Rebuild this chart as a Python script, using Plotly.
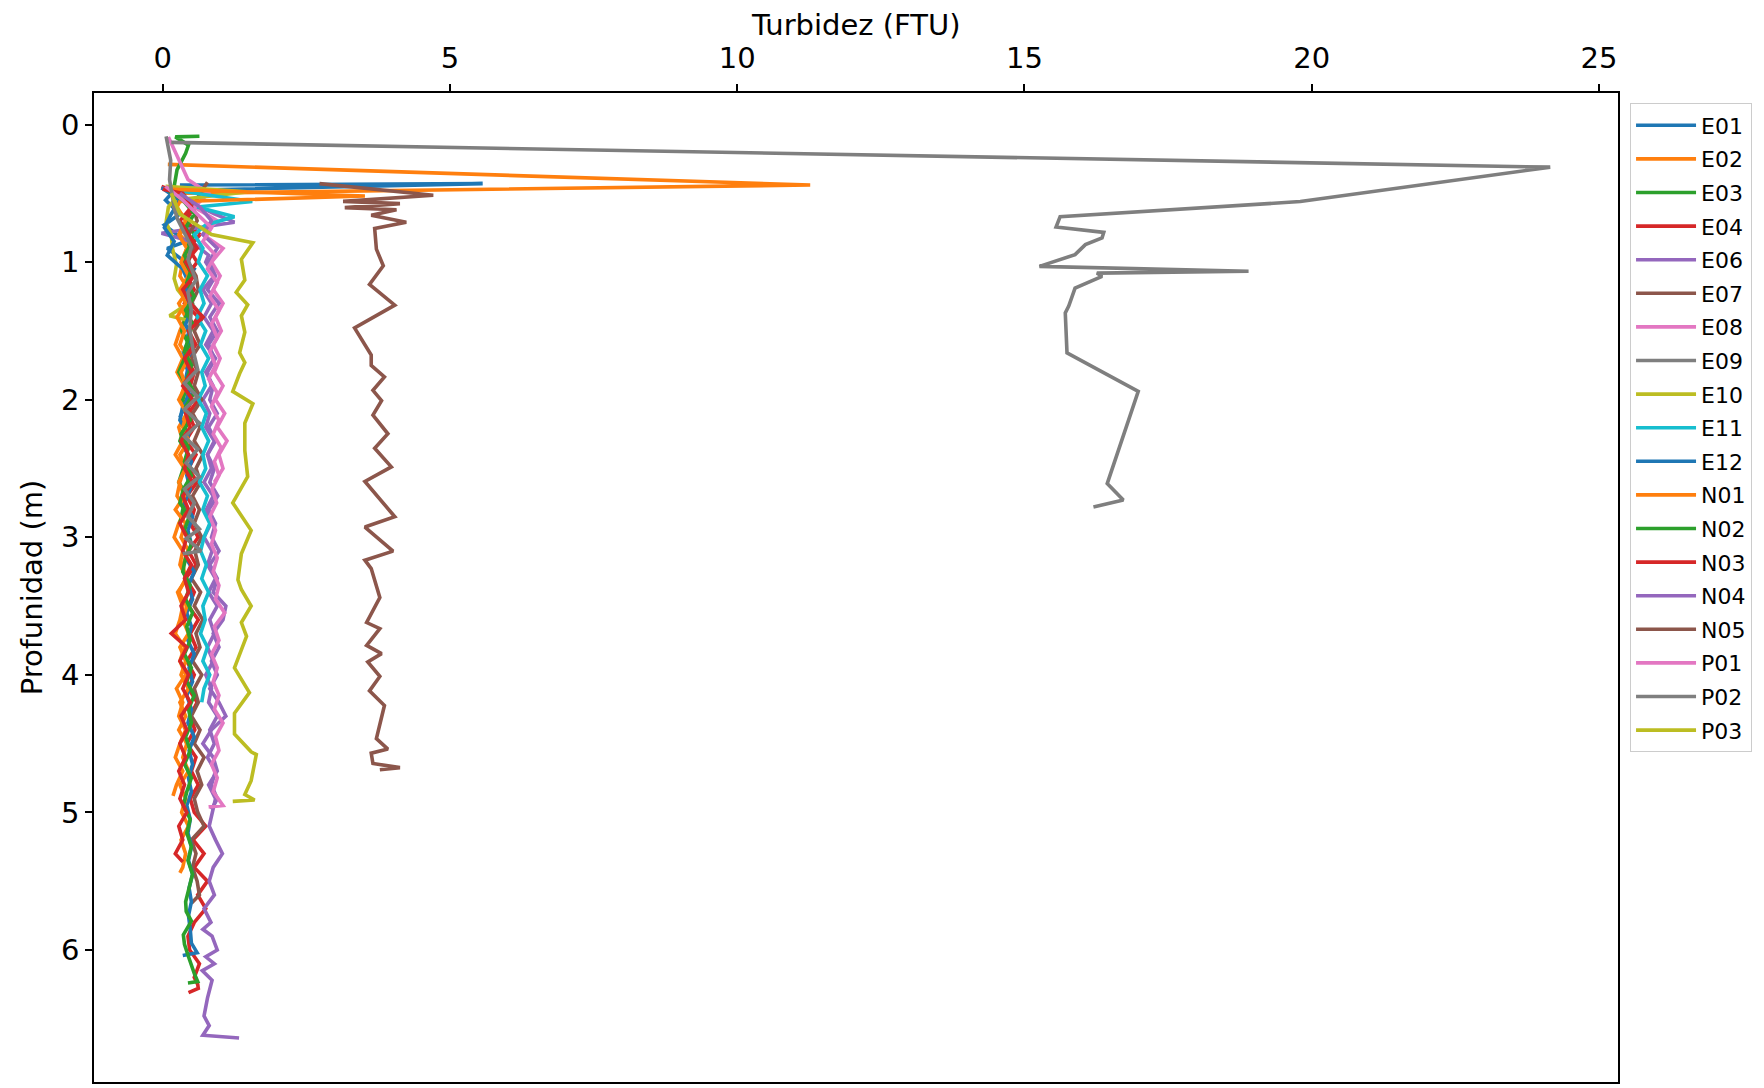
import plotly.graph_objects as go

# ---------------- data (turbidity in FTU vs depth in m) ----------------
STATIONS = ["E01", "E02", "E03", "E04", "E06", "E07", "E08", "E09", "E10", "E11",
            "E12", "N01", "N02", "N03", "N04", "N05", "P01", "P02", "P03"]
COLORS = ["#1f77b4", "#ff7f0e", "#2ca02c", "#d62728", "#9467bd", "#8c564b", "#e377c2",
          "#7f7f7f", "#bcbd22", "#17becf", "#1f77b4", "#ff7f0e", "#2ca02c", "#d62728",
          "#9467bd", "#8c564b", "#e377c2", "#7f7f7f", "#bcbd22"]

E01_depth = [0.44, 0.43, 0.48, 0.55, 0.65, 0.73, 0.85, 0.90, 1.05, 1.15, 1.25, 1.35, 1.45,
             1.55, 1.65, 1.75, 1.85, 1.95, 2.05, 2.13]
E01_ftu = [0.30, 5.57, 0.20, 0.05, 0.30, 0.03, 0.40, 0.08, 0.55, 0.40, 0.50, 0.38, 0.52,
           0.42, 0.55, 0.40, 0.50, 0.45, 0.38, 0.30]

E02_depth = [0.29, 0.44, 0.50, 0.6, 0.7, 0.8, 0.9, 1.0, 1.1, 1.2, 1.3, 1.4, 1.5, 1.6, 1.7,
             1.8, 1.9, 2.0, 2.1, 2.2, 2.3, 2.4, 2.5, 2.6, 2.7, 2.8, 2.9, 3.0, 3.1, 3.2, 3.3,
             3.4, 3.5, 3.6, 3.7, 3.8, 3.9, 4.0, 4.1, 4.2, 4.3, 4.4, 4.5, 4.6, 4.7, 4.8, 4.88]
E02_ftu = [0.09, 11.27, 0.35, 0.20, 0.45, 0.30, 0.50, 0.35, 0.30, 0.45, 0.28, 0.40, 0.30,
           0.22, 0.35, 0.25, 0.38, 0.30, 0.42, 0.28, 0.35, 0.22, 0.38, 0.30, 0.25, 0.40,
           0.28, 0.20, 0.35, 0.30, 0.42, 0.26, 0.35, 0.30, 0.22, 0.38, 0.30, 0.40, 0.24,
           0.35, 0.28, 0.40, 0.30, 0.22, 0.35, 0.24, 0.18]

E03_depth = [0.085, 0.09, 0.15, 0.21, 0.33, 0.45, 0.5, 0.6, 0.7, 0.8, 0.9, 1.0, 1.1, 1.2,
             1.3, 1.4, 1.5, 1.6, 1.7, 1.8, 1.9, 2.0, 2.1, 2.2, 2.3, 2.4, 2.5, 2.6, 2.7,
             2.8, 2.9]
E03_ftu = [0.64, 0.22, 0.45, 0.40, 0.25, 0.20, 0.35, 0.50, 0.40, 0.55, 0.42, 0.35, 0.48,
           0.38, 0.52, 0.40, 0.33, 0.46, 0.38, 0.28, 0.42, 0.35, 0.50, 0.38, 0.30, 0.45,
           0.36, 0.28, 0.42, 0.35, 0.30]

E04_depth = [0.45, 0.5, 0.6, 0.7, 0.8, 0.9, 1.0, 1.1, 1.2, 1.3, 1.4, 1.5, 1.6, 1.7, 1.8,
             1.9, 2.0, 2.1, 2.2, 2.3, 2.4, 2.5, 2.6, 2.7, 2.8, 2.9, 3.0, 3.1, 3.2, 3.3, 3.4,
             3.5, 3.6, 3.7, 3.8, 3.9, 4.0, 4.1, 4.2, 4.3, 4.4, 4.5, 4.6, 4.7, 4.8, 4.9, 5.0,
             5.1, 5.2, 5.3, 5.4, 5.5, 5.6, 5.7, 5.8, 5.9, 6.0, 6.1, 6.2, 6.25, 6.28, 6.31]
E04_ftu = [-0.02, 0.30, 0.55, 0.40, 0.65, 0.45, 0.60, 0.42, 0.55, 0.38, 0.62, 0.45, 0.58,
           0.40, 0.55, 0.48, 0.62, 0.45, 0.55, 0.40, 0.58, 0.45, 0.60, 0.42, 0.55, 0.48,
           0.62, 0.45, 0.58, 0.40, 0.55, 0.45, 0.62, 0.48, 0.58, 0.42, 0.55, 0.45, 0.60,
           0.48, 0.56, 0.42, 0.58, 0.50, 0.62, 0.48, 0.55, 0.75, 0.53, 0.72, 0.55, 0.78,
           0.61, 0.75, 0.55, 0.44, 0.47, 0.64, 0.55, 0.61, 0.62, 0.45]

E06_depth = [0.46, 0.55, 0.65, 0.71, 0.75, 0.79, 0.85, 0.95, 1.0, 1.1, 1.2, 1.3, 1.4, 1.5,
             1.6, 1.7, 1.8, 1.9, 2.0, 2.1, 2.2, 2.3, 2.4, 2.5, 2.6, 2.7, 2.8, 2.9, 3.0, 3.1,
             3.2, 3.3, 3.4, 3.5, 3.6, 3.7, 3.8, 3.9, 4.0, 4.1, 4.2, 4.3, 4.4, 4.5, 4.6, 4.7,
             4.8, 4.9, 4.98]
E06_ftu = [-0.02, 0.40, 0.90, 1.25, 0.60, -0.02, 0.50, 0.80, 0.75, 0.90, 0.70, 0.85, 0.72,
           0.88, 0.75, 0.92, 0.78, 0.85, 0.70, 0.82, 0.75, 0.90, 0.78, 0.85, 0.72, 0.88,
           0.76, 0.84, 0.72, 0.86, 0.78, 0.92, 0.80, 0.95, 0.82, 0.90, 0.78, 0.88, 0.75,
           0.85, 0.80, 0.95, 0.82, 0.90, 0.78, 0.92, 0.85, 0.95, 0.85]

E07_depth = [0.42, 0.5, 0.6, 0.7, 0.8, 0.9, 1.0, 1.1, 1.2, 1.3, 1.4, 1.5, 1.6, 1.7, 1.8,
             1.9, 2.0, 2.1, 2.2, 2.3, 2.4, 2.5, 2.6, 2.7, 2.8, 2.9, 3.0, 3.1, 3.2, 3.3, 3.4,
             3.5, 3.6, 3.7, 3.8, 3.9, 4.0, 4.1, 4.2, 4.3, 4.4, 4.5, 4.6, 4.7, 4.8, 4.9, 5.0,
             5.1, 5.2, 5.3, 5.4, 5.5, 5.6, 5.66]
E07_ftu = [0.78, 0.65, 0.53, 0.60, 0.45, 0.55, 0.44, 0.58, 0.62, 0.50, 0.70, 0.55, 0.65,
           0.50, 0.62, 0.55, 0.68, 0.52, 0.65, 0.55, 0.70, 0.58, 0.66, 0.52, 0.64, 0.55,
           0.68, 0.56, 0.62, 0.50, 0.66, 0.55, 0.70, 0.58, 0.65, 0.52, 0.68, 0.55, 0.62,
           0.50, 0.65, 0.55, 0.72, 0.60, 0.68, 0.55, 0.61, 0.72, 0.50, 0.58, 0.52, 0.60,
           0.64, 0.50]

E08_depth = [0.09, 0.40, 0.5, 0.6, 0.7, 0.8, 0.9, 1.0, 1.1, 1.2, 1.3, 1.4, 1.5, 1.6, 1.7,
             1.8, 1.9, 2.0, 2.1, 2.2, 2.3, 2.4, 2.5, 2.6]
E08_ftu = [0.10, 0.44, 0.80, 0.55, 0.95, 0.70, 1.05, 0.85, 1.00, 0.88, 1.05, 0.92, 1.02,
           0.88, 1.00, 0.90, 1.05, 0.92, 1.08, 0.95, 1.12, 0.98, 1.05, 0.90]

E09_depth = [0.13, 0.31, 0.56, 0.67, 0.745, 0.784, 0.825, 0.873, 0.946, 1.031, 1.067, 1.08,
             1.104, 1.19, 1.32, 1.37, 1.66, 1.94, 2.61, 2.73, 2.78]
E09_ftu = [0.15, 24.15, 19.8, 15.62, 15.55, 16.38, 16.35, 16.06, 15.88, 15.26, 18.90, 16.26,
           16.35, 15.88, 15.77, 15.71, 15.74, 16.98, 16.44, 16.72, 16.20]

E10_depth = [0.45, 0.49, 0.55, 0.60, 0.71, 0.80, 0.90, 1.02, 1.12, 1.20, 1.30, 1.36, 1.39,
             1.43]
E10_ftu = [0.05, 1.46, 0.20, 0.10, 0.06, 0.15, 0.17, 0.24, 0.20, 0.26, 0.45, 0.22, 0.12, 0.50]

E11_depth = [0.47, 0.56, 0.60, 0.67, 0.73, 0.8, 0.9, 1.0, 1.1, 1.2, 1.3, 1.4, 1.5, 1.6,
             1.7, 1.8, 1.9, 2.0, 2.1, 2.2, 2.3, 2.4, 2.5, 2.6, 2.7, 2.8, 2.9, 3.0, 3.1, 3.2,
             3.3, 3.4, 3.5, 3.6, 3.7, 3.8, 3.9, 4.0, 4.1, 4.2]
E11_ftu = [0.10, 1.56, 0.60, 1.25, 0.75, 0.55, 0.70, 0.62, 0.78, 0.65, 0.72, 0.60, 0.75,
           0.66, 0.80, 0.68, 0.74, 0.62, 0.76, 0.68, 0.80, 0.70, 0.75, 0.64, 0.78, 0.70,
           0.82, 0.72, 0.66, 0.76, 0.68, 0.80, 0.70, 0.74, 0.66, 0.78, 0.70, 0.82, 0.72,
           0.68]

E12_depth = [0.46, 0.55, 0.65, 0.75, 0.85, 0.95, 1.05, 1.15, 1.25, 1.35, 1.45, 1.55, 1.65,
             1.75, 1.85, 1.95, 2.05, 2.15, 2.25, 2.35, 2.45, 2.55, 2.65, 2.75, 2.85, 2.95,
             3.05, 3.15, 3.25, 3.35, 3.45, 3.55, 3.65, 3.75, 3.85, 3.95, 4.05, 4.15, 4.25,
             4.35, 4.45, 4.55, 4.65, 4.75, 4.85, 4.95, 5.05, 5.15, 5.25, 5.35, 5.45, 5.55,
             5.65, 5.75, 5.85, 5.95, 6.02, 6.04]
E12_ftu = [-0.02, 0.30, 0.15, 0.03, 0.20, 0.08, 0.35, 0.45, 0.38, 0.50, 0.40, 0.48, 0.36,
           0.45, 0.40, 0.52, 0.35, 0.30, 0.45, 0.38, 0.50, 0.42, 0.48, 0.38, 0.52, 0.44,
           0.50, 0.40, 0.55, 0.45, 0.52, 0.42, 0.50, 0.44, 0.55, 0.46, 0.52, 0.42, 0.50,
           0.44, 0.55, 0.46, 0.52, 0.45, 0.50, 0.42, 0.48, 0.44, 0.50, 0.45, 0.52, 0.46,
           0.50, 0.45, 0.48, 0.50, 0.60, 0.35]

N01_depth = [0.47, 0.52, 0.56, 0.6, 0.7, 0.8, 0.9, 1.0, 1.1, 1.2, 1.3, 1.4, 1.5, 1.6, 1.7,
             1.8, 1.9, 2.0, 2.1, 2.2, 2.3, 2.4, 2.5, 2.6, 2.7, 2.8, 2.9, 3.0, 3.1, 3.2, 3.3,
             3.4, 3.5, 3.6, 3.7, 3.8, 3.9, 4.0, 4.1, 4.2, 4.3, 4.4, 4.5, 4.6, 4.7, 4.8, 4.9,
             5.0, 5.1, 5.2, 5.3, 5.4, 5.44]
N01_ftu = [0.05, 3.52, 0.30, 0.25, 0.40, 0.28, 0.42, 0.32, 0.45, 0.30, 0.40, 0.25, 0.38,
           0.30, 0.45, 0.32, 0.40, 0.28, 0.42, 0.35, 0.45, 0.30, 0.40, 0.28, 0.38, 0.22,
           0.40, 0.32, 0.45, 0.35, 0.40, 0.28, 0.42, 0.35, 0.45, 0.30, 0.40, 0.32, 0.45,
           0.30, 0.40, 0.28, 0.42, 0.35, 0.45, 0.30, 0.40, 0.33, 0.45, 0.32, 0.40, 0.35,
           0.30]

N02_depth = [0.48, 0.55, 0.65, 0.75, 0.85, 0.95, 1.05, 1.15, 1.25, 1.35, 1.45, 1.55, 1.65,
             1.75, 1.85, 1.95, 2.05, 2.15, 2.25, 2.35, 2.45, 2.55, 2.65, 2.75, 2.85, 2.95,
             3.05, 3.15, 3.25, 3.35, 3.45, 3.55, 3.65, 3.75, 3.85, 3.95, 4.05, 4.15, 4.25,
             4.35, 4.45, 4.55, 4.65, 4.75, 4.85, 4.95, 5.05, 5.15, 5.25, 5.35, 5.45, 5.55,
             5.65, 5.72, 5.79, 5.89, 5.96, 6.05, 6.12, 6.17, 6.23, 6.24]
N02_ftu = [0.10, 0.35, 0.55, 0.40, 0.52, 0.38, 0.50, 0.42, 0.55, 0.40, 0.52, 0.45, 0.38,
           0.50, 0.42, 0.55, 0.40, 0.48, 0.32, 0.45, 0.38, 0.50, 0.36, 0.30, 0.46, 0.38,
           0.50, 0.40, 0.35, 0.48, 0.40, 0.52, 0.42, 0.48, 0.38, 0.50, 0.42, 0.55, 0.45,
           0.50, 0.40, 0.48, 0.38, 0.50, 0.42, 0.36, 0.48, 0.42, 0.50, 0.44, 0.52, 0.46,
           0.40, 0.41, 0.50, 0.36, 0.38, 0.45, 0.50, 0.55, 0.61, 0.44]

N03_depth = [0.47, 0.5, 0.6, 0.7, 0.8, 0.9, 1.0, 1.1, 1.2, 1.3, 1.4, 1.5, 1.6, 1.7, 1.8,
             1.9, 2.0, 2.1, 2.2, 2.3, 2.4, 2.5, 2.6, 2.7, 2.8, 2.9, 3.0, 3.1, 3.2, 3.3, 3.4,
             3.5, 3.6, 3.7, 3.8, 3.9, 4.0, 4.1, 4.2, 4.3, 4.4, 4.5, 4.6, 4.7, 4.8, 4.9, 5.0,
             5.1, 5.2, 5.3, 5.36]
N03_ftu = [0.00, 0.35, 0.50, 0.30, 0.45, 0.60, 0.40, 0.55, 0.35, 0.48, 0.70, 0.45, 0.55,
           0.38, 0.50, 0.35, 0.52, 0.40, 0.48, 0.32, 0.45, 0.38, 0.52, 0.35, 0.45, 0.30,
           0.42, 0.35, 0.50, 0.38, 0.45, 0.32, 0.40, 0.15, 0.42, 0.30, 0.45, 0.35, 0.48,
           0.32, 0.42, 0.30, 0.40, 0.28, 0.38, 0.30, 0.42, 0.28, 0.35, 0.22, 0.35]

N04_depth = [0.5, 0.6, 0.7, 0.8, 0.9, 1.0, 1.1, 1.2, 1.3, 1.4, 1.5, 1.6, 1.7, 1.8, 1.9,
             2.0, 2.1, 2.2, 2.3, 2.4, 2.5, 2.6, 2.7, 2.8, 2.9, 3.0, 3.1, 3.2, 3.3, 3.4, 3.5,
             3.6, 3.7, 3.8, 3.9, 4.0, 4.1, 4.2, 4.3, 4.4, 4.5, 4.6, 4.7, 4.8, 4.9, 5.0, 5.1,
             5.2, 5.3, 5.4, 5.5, 5.6, 5.7, 5.8, 5.85, 5.9, 6.0, 6.05, 6.1, 6.15, 6.22, 6.35,
             6.48, 6.55, 6.62, 6.64]
N04_ftu = [0.30, 0.65, 0.85, 0.70, 0.95, 0.80, 0.92, 0.78, 0.98, 0.82, 0.95, 0.80, 0.90,
           0.75, 0.88, 0.82, 0.95, 0.80, 0.92, 0.78, 0.90, 0.82, 0.96, 0.80, 0.92, 0.85,
           0.98, 0.82, 0.95, 0.88, 1.10, 1.05, 0.88, 0.98, 0.85, 0.95, 0.82, 0.98, 1.10,
           0.85, 0.70, 0.88, 0.95, 0.80, 0.92, 0.86, 0.81, 0.92, 1.04, 0.88, 0.81, 0.90,
           0.72, 0.84, 0.70, 0.86, 0.95, 0.75, 0.90, 0.69, 0.86, 0.78, 0.72, 0.81, 0.70,
           1.33]

N05_depth = [0.43, 0.514, 0.559, 0.575, 0.604, 0.62, 0.659, 0.711, 0.756, 0.906, 1.027,
             1.162, 1.313, 1.479, 1.675, 1.751, 1.835, 1.932, 2.007, 2.112, 2.248, 2.353,
             2.489, 2.595, 2.851, 2.926, 3.101, 3.167, 3.228, 3.439, 3.62, 3.665, 3.786,
             3.846, 3.906, 4.012, 4.117, 4.223, 4.464, 4.54, 4.57, 4.645, 4.675, 4.69]
N05_ftu = [2.73, 4.71, 3.14, 4.13, 3.17, 4.07, 3.63, 4.24, 3.69, 3.72, 3.84, 3.60, 4.04,
           3.34, 3.63, 3.63, 3.86, 3.66, 3.81, 3.66, 3.92, 3.69, 3.98, 3.52, 4.04, 3.52,
           4.01, 3.52, 3.63, 3.78, 3.55, 3.78, 3.55, 3.81, 3.57, 3.78, 3.60, 3.86, 3.72,
           3.92, 3.63, 3.66, 4.13, 3.78]

P01_depth = [0.45, 0.55, 0.65, 0.75, 0.85, 0.95, 1.05, 1.15, 1.25, 1.35, 1.45, 1.55, 1.65,
             1.75, 1.85, 1.95, 2.05, 2.15, 2.25, 2.35, 2.45, 2.55, 2.65, 2.75, 2.85, 2.95,
             3.05, 3.15, 3.25, 3.35, 3.45, 3.55, 3.65, 3.75, 3.85, 3.95, 4.05, 4.15, 4.25,
             4.35, 4.45, 4.55, 4.65, 4.75, 4.85, 4.95, 4.96]
P01_ftu = [0.05, 0.35, 0.60, 0.85, 0.70, 0.92, 0.78, 0.95, 0.82, 0.98, 0.85, 0.95, 0.82,
           0.92, 0.80, 0.95, 0.85, 0.98, 0.88, 1.02, 0.90, 0.98, 0.86, 0.94, 0.82, 0.92,
           0.85, 0.95, 0.88, 0.98, 0.92, 1.08, 0.90, 0.98, 0.85, 0.95, 0.88, 0.98, 0.90,
           1.05, 0.92, 0.98, 0.85, 0.95, 0.88, 1.05, 0.80]

P02_depth = [0.086, 0.26, 0.40, 0.62, 0.69, 0.80, 0.89, 0.98, 1.13, 1.22, 1.35, 1.48, 1.64,
             1.78, 1.88, 1.98, 2.07, 2.17, 2.27, 2.36, 2.46, 2.56, 2.65, 2.75, 2.85, 2.94,
             3.01, 3.10, 3.12]
P02_ftu = [0.06, 0.14, 0.12, 0.21, 0.26, 0.40, 0.50, 0.44, 0.58, 0.44, 0.50, 0.47, 0.53,
           0.61, 0.38, 0.61, 0.38, 0.64, 0.38, 0.61, 0.41, 0.64, 0.38, 0.55, 0.44, 0.64,
           0.41, 0.67, 0.35]

P03_depth = [0.50, 0.65, 0.80, 0.86, 0.98, 1.13, 1.22, 1.31, 1.39, 1.51, 1.66, 1.73, 1.81,
             1.94, 2.03, 2.17, 2.37, 2.56, 2.75, 2.95, 3.12, 3.31, 3.38, 3.50, 3.62, 3.72,
             3.95, 4.13, 4.28, 4.43, 4.56, 4.58, 4.77, 4.87, 4.91, 4.92]
P03_ftu = [0.15, 0.30, 0.85, 1.57, 1.37, 1.43, 1.28, 1.48, 1.37, 1.43, 1.34, 1.43, 1.34,
           1.22, 1.57, 1.43, 1.43, 1.48, 1.22, 1.54, 1.37, 1.31, 1.37, 1.54, 1.37, 1.46,
           1.25, 1.51, 1.25, 1.25, 1.54, 1.63, 1.54, 1.43, 1.60, 1.22]

DEPTHS = [E01_depth, E02_depth, E03_depth, E04_depth, E06_depth, E07_depth, E08_depth,
          E09_depth, E10_depth, E11_depth, E12_depth, N01_depth, N02_depth, N03_depth,
          N04_depth, N05_depth, P01_depth, P02_depth, P03_depth]
FTUS = [E01_ftu, E02_ftu, E03_ftu, E04_ftu, E06_ftu, E07_ftu, E08_ftu, E09_ftu, E10_ftu,
        E11_ftu, E12_ftu, N01_ftu, N02_ftu, N03_ftu, N04_ftu, N05_ftu, P01_ftu, P02_ftu,
        P03_ftu]

X_TICKS = [0, 5, 10, 15, 20, 25]
Y_TICKS = [0, 1, 2, 3, 4, 5, 6]
X_TITLE = "Turbidez (FTU)"
Y_TITLE = "Profunidad (m)"

# ---------------- figure ----------------
FONT = "DejaVu Sans, Liberation Sans, sans-serif"
fig = go.Figure()
for name, color, d, v in zip(STATIONS, COLORS, DEPTHS, FTUS):
    fig.add_trace(go.Scatter(x=v, y=d, mode="lines", name=name, legendgroup=name,
                             line=dict(color=color, width=3.6)))

axis_common = dict(showline=True, linecolor="black", linewidth=1.6, mirror=True,
                   ticks="outside", ticklen=7, tickwidth=1.6, tickcolor="black",
                   showgrid=False, zeroline=False, automargin=False,
                   tickfont=dict(family=FONT, size=29, color="black"))

fig.update_layout(
    width=1764, height=1088,
    margin=dict(l=94, r=146, t=93, b=6),
    paper_bgcolor="white", plot_bgcolor="white",
    font=dict(family=FONT, color="black"),
    showlegend=True,
    legend=dict(x=1.0079, xanchor="left", y=0.9894, yanchor="top",
                bgcolor="rgba(255,255,255,0.8)", bordercolor="#cccccc", borderwidth=1,
                itemwidth=60,
                font=dict(family=FONT, size=22, color="black"), tracegroupgap=2),
    xaxis=dict(side="top", range=[-1.195, 25.33], tickmode="array", tickvals=X_TICKS,
               ticklabelstandoff=5, **axis_common),
    yaxis=dict(range=[6.96, -0.229], tickmode="array", tickvals=Y_TICKS,
               title=dict(text=Y_TITLE, font=dict(family=FONT, size=29), standoff=10),
               **axis_common),
    annotations=[dict(text=X_TITLE, xref="paper", yref="paper", x=0.5, y=1.0,
                      xanchor="center", yanchor="middle", yshift=68, showarrow=False,
                      font=dict(family=FONT, size=29, color="black"))],
)

fig.write_html("out.html", config={"displayModeBar": False},
               post_script="document.body.style.margin='0';")
